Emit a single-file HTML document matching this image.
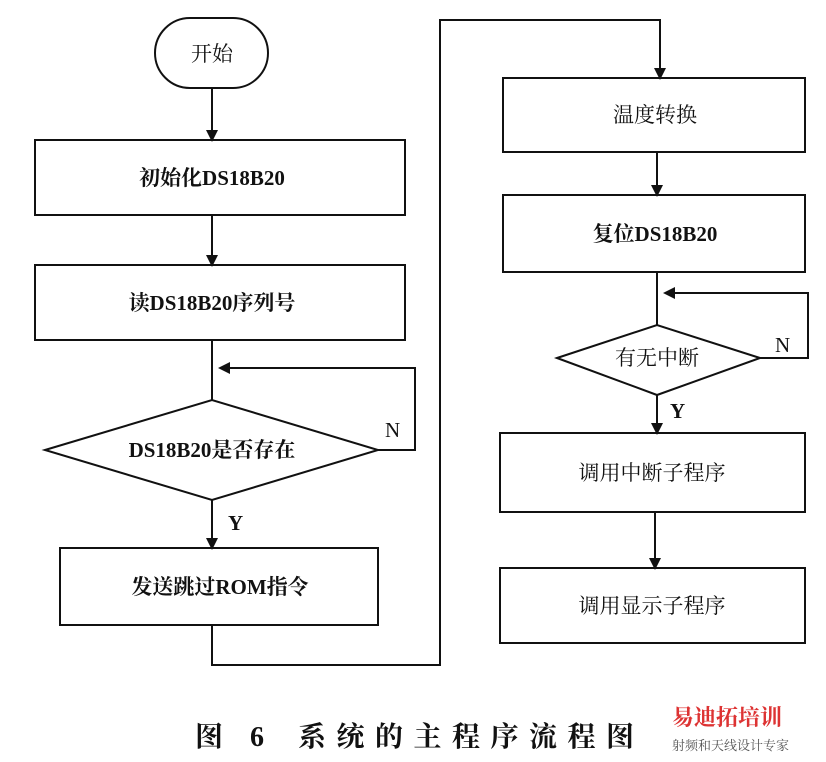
<!DOCTYPE html>
<html><head><meta charset="utf-8"><style>
body{margin:0;background:#fff;}
svg text{font-family:"Liberation Serif","Noto Serif CJK SC",serif;font-size:21px;fill:#111;}
</style></head><body>
<svg width="826" height="757" viewBox="0 0 826 757" xmlns="http://www.w3.org/2000/svg">
<defs><marker id="a" markerWidth="12" markerHeight="12" refX="10" refY="6" orient="auto" markerUnits="userSpaceOnUse"><path d="M0,0 L12,6 L0,12 z" fill="#111"/></marker></defs>
<g stroke="#111" stroke-width="2" fill="none">
<rect x="155" y="18" width="113" height="70" rx="35"/>
<line x1="212" y1="88" x2="212" y2="140" marker-end="url(#a)"/>
<rect x="35" y="140" width="370" height="75"/>
<line x1="212" y1="215" x2="212" y2="265" marker-end="url(#a)"/>
<rect x="35" y="265" width="370" height="75"/>
<line x1="212" y1="340" x2="212" y2="400"/>
<polygon points="45,450 212,400 378,450 212,500"/>
<polyline points="378,450 415,450 415,368 220,368" marker-end="url(#a)"/>
<line x1="212" y1="500" x2="212" y2="548" marker-end="url(#a)"/>
<rect x="60" y="548" width="318" height="77"/>
<polyline points="212,625 212,665 440,665 440,20 660,20 660,78" marker-end="url(#a)"/>
<rect x="503" y="78" width="302" height="74"/>
<line x1="657" y1="152" x2="657" y2="195" marker-end="url(#a)"/>
<rect x="503" y="195" width="302" height="77"/>
<line x1="657" y1="272" x2="657" y2="325"/>
<polygon points="557,358 657,325 760,358 657,395"/>
<polyline points="760,358 808,358 808,293 665,293" marker-end="url(#a)"/>
<line x1="657" y1="395" x2="657" y2="433" marker-end="url(#a)"/>
<rect x="500" y="433" width="305" height="79"/>
<line x1="655" y1="512" x2="655" y2="568" marker-end="url(#a)"/>
<rect x="500" y="568" width="305" height="75"/>
</g>
<g text-anchor="middle">
<text x="212" y="61">开始</text>
<text x="212" y="185" font-weight="bold">初始化DS18B20</text>
<text x="212" y="310" font-weight="bold">读DS18B20序列号</text>
<text x="212" y="457" font-weight="bold">DS18B20是否存在</text>
<text x="220" y="594" font-weight="bold">发送跳过ROM指令</text>
<text x="655" y="122">温度转换</text>
<text x="655" y="241" font-weight="bold">复位DS18B20</text>
<text x="657" y="365">有无中断</text>
<text x="652" y="480">调用中断子程序</text>
<text x="652" y="613">调用显示子程序</text>
</g>
<text x="385" y="437">N</text>
<text x="228" y="530" font-weight="bold">Y</text>
<text x="775" y="352">N</text>
<text x="670" y="418" font-weight="bold">Y</text>
<text x="195" y="746" style="font-size:28px;font-weight:bold;letter-spacing:10px">图 6</text>
<text x="298" y="746" style="font-size:28px;font-weight:bold;letter-spacing:10.5px">系统的主程序流程图</text>
<text x="672" y="725" style="font-size:22px;fill:#d33;font-weight:bold">易迪拓培训</text>
<text x="672" y="750" style="font-size:13px;fill:#555">射频和天线设计专家</text>
</svg>
</body></html>
